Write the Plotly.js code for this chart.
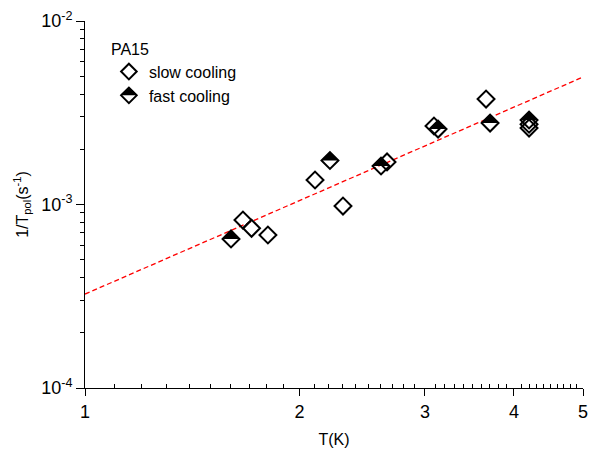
<!DOCTYPE html>
<html><head><meta charset="utf-8">
<script src="https://cdn.plot.ly/plotly-3.0.1.min.js"></script>
<style>html,body{margin:0;padding:0;background:#fff}#chart{width:590px;height:449px}</style>
</head><body><div id="chart"></div>
<script>
// ---- data ----
const slowX = [1.666, 1.713, 1.806, 2.103, 2.302, 2.654, 3.089, 3.655, 4.200, 4.200];
const slowY = [8.23e-4, 7.42e-4, 6.82e-4, 1.360e-3, 9.81e-4, 1.705e-3, 2.678e-3, 3.757e-3, 2.74e-3, 2.611e-3];
const fastX = [1.603, 2.207, 2.603, 3.130, 3.703, 4.200];
const fastY = [6.49e-4, 1.737e-3, 1.621e-3, 2.578e-3, 2.780e-3, 2.887e-3];
const fitX = [1, 5];
const fitY = [3.25e-4, 4.95e-3];
const seriesNames = ['slow cooling', 'fast cooling'];
const legendTitle = 'PA15';
const xTickVals = [1, 2, 3, 4, 5];
const xTickText = ['1', '2', '3', '4', '5'];
const yTickVals = [1e-4, 1e-3, 1e-2];
const yTickText = ['10<sup>-4</sup>', '10<sup>-3</sup>', '10<sup>-2</sup>'];
const xTitle = 'T(K)';
const yTitle = '1/T<sub>pol</sub>(s<sup>-1</sup>)';

// ---- styling ----
const FONT = 'Liberation Sans, Arial, Helvetica, sans-serif';
const PLOT_W = 498, PLOT_H = 367;
const DSIZE = 13;                                   // diamond marker size
const TSIZE = DSIZE * 1.3 / (0.9 * Math.SQRT2);     // black upper-half triangle size
const SHIFT_PX = 0.3 * Math.SQRT2 * TSIZE / 2;      // lift so the triangle base sits on the diamond's waist
const dShift = SHIFT_PX / (PLOT_H / 2);             // in decades (2 decades over the plot height)

const minorX = [];
for (let a = 1; a < 5; a++) for (let k = 1; k <= 9; k++) minorX.push(a + k / 10);
const minorY = [];
for (let e = -4; e < -2; e++) for (let m = 2; m <= 9; m++) minorY.push(m * Math.pow(10, e));

const traces = [
  {x: fitX, y: fitY, mode: 'lines', showlegend: false, hoverinfo: 'skip',
   line: {color: '#ff0000', width: 1.3, dash: '5px,3px'}},
  {x: slowX, y: slowY, mode: 'markers', name: seriesNames[0], legend: 'legend',
   marker: {symbol: 'diamond-open', size: DSIZE, color: '#000', line: {width: 2, color: '#000'}}},
  {x: fastX, y: fastY, mode: 'markers', name: '', legend: 'legend2', yaxis: 'y3',
   marker: {symbol: 'triangle-ne', angle: -45, size: TSIZE, color: '#000', line: {width: 0}}},
  {x: fastX, y: fastY, mode: 'markers', name: seriesNames[1], legend: 'legend',
   marker: {symbol: 'diamond-open', size: DSIZE, color: '#000', line: {width: 2, color: '#000'}}}
];

const axBase = {type: 'log', showgrid: false, zeroline: false, showline: true,
  linecolor: '#000', linewidth: 1, tickcolor: '#000', tickwidth: 1};

const LEG_X = 0.048, LEG_Y = 0.965;

const layout = {
  width: 590, height: 449,
  margin: {l: 85, r: 7, t: 21, b: 61, pad: 0},
  paper_bgcolor: '#fff', plot_bgcolor: '#fff',
  font: {family: FONT, color: '#000', size: 16},
  xaxis: Object.assign({}, axBase, {
    range: [0, Math.log10(5)], tickmode: 'array', tickvals: xTickVals, ticktext: xTickText,
    ticks: 'outside', ticklen: 7, tickfont: {size: 18},
    minor: {ticks: 'inside', ticklen: 4, tickvals: minorX, tickcolor: '#000'},
    title: {text: xTitle, font: {size: 16}, standoff: 13}
  }),
  xaxis2: Object.assign({}, axBase, {
    overlaying: 'x', side: 'top', anchor: 'y', range: [0, Math.log10(5)],
    tickmode: 'array', tickvals: xTickVals, showticklabels: false,
    ticks: 'inside', ticklen: 5,
    minor: {ticks: 'inside', ticklen: 4, tickvals: minorX, tickcolor: '#000'}
  }),
  xaxis3: Object.assign({}, axBase, {
    overlaying: 'x', side: 'bottom', anchor: 'y', range: [0, Math.log10(5)], showline: false,
    tickmode: 'array', tickvals: xTickVals, showticklabels: false,
    ticks: 'inside', ticklen: 4
  }),
  yaxis: Object.assign({}, axBase, {
    range: [-4, -2], tickmode: 'array', tickvals: yTickVals, ticktext: yTickText,
    ticks: 'outside', ticklen: 8, tickfont: {size: 18},
    minor: {ticks: 'outside', ticklen: 4, tickvals: minorY, tickcolor: '#000'},
    title: {text: yTitle, font: {size: 16}, standoff: 8}
  }),
  yaxis2: Object.assign({}, axBase, {
    overlaying: 'y', side: 'right', anchor: 'x', range: [-4, -2],
    tickmode: 'array', tickvals: yTickVals, showticklabels: false,
    ticks: 'inside', ticklen: 5,
    minor: {ticks: 'inside', ticklen: 4, tickvals: minorY, tickcolor: '#000'}
  }),
  yaxis3: {type: 'log', overlaying: 'y', anchor: 'x', range: [-4 - dShift, -2 - dShift], visible: false},
  legend: {x: LEG_X, y: LEG_Y, xanchor: 'left', yanchor: 'top', bgcolor: 'rgba(0,0,0,0)',
    borderwidth: 0, font: {size: 16}, itemsizing: 'constant',
    title: {text: legendTitle, font: {size: 16}}},
  legend2: {x: LEG_X, y: LEG_Y - 50 / PLOT_H, xanchor: 'left', yanchor: 'top',
    bgcolor: 'rgba(0,0,0,0)', borderwidth: 0, font: {size: 16}, itemsizing: 'constant'},
  showlegend: true
};

Plotly.newPlot('chart', traces, layout, {displayModeBar: false, staticPlot: true}).then(function (gd) {
  // lay the black half-triangle legend symbol exactly on the "fast cooling" diamond
  const dia = Array.from(gd.querySelectorAll('g.legend .legendpoints path'))
    .filter(p => (p.getAttribute('d') || '').length > 0);
  const tri = Array.from(gd.querySelectorAll('g.legend2 .legendpoints path'))
    .filter(p => (p.getAttribute('d') || '').length > 0);
  if (!dia.length || !tri.length) return;
  const a = dia[dia.length - 1].getBoundingClientRect();
  const b = tri[0].getBoundingClientRect();
  const dx = (a.left + a.width / 2) - (b.left + b.width / 2);
  const dy = (a.top + a.height / 2) - b.bottom;
  return Plotly.relayout(gd, {
    'legend2.x': gd.layout.legend2.x + dx / PLOT_W,
    'legend2.y': gd.layout.legend2.y - dy / PLOT_H
  });
});
</script>
</body></html>
